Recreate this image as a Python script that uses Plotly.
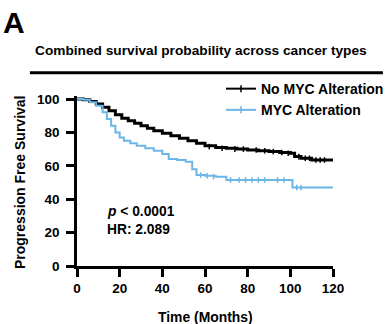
import plotly.graph_objects as go

# --- Data ---
no_myc_time = [0, 3, 6, 9, 12, 15, 18, 21, 24, 27, 30, 33, 36, 40, 44, 48, 52, 56, 60,
               65, 70, 75, 80, 85, 90, 95, 100, 102, 105, 110, 120]
no_myc_surv = [100, 99.5, 98.5, 97, 95, 93, 90.5, 88.5, 87, 85.5, 84, 82.5, 81, 79.5, 78,
               76.5, 75, 73.5, 72, 71, 70.5, 70, 69.5, 69, 68.5, 68, 67.5, 65.5, 64.5, 63.5, 63.5]
no_myc_cens_t = [62, 68, 74, 78, 84, 88, 92, 96, 99, 104, 107, 109, 112, 114, 116]
no_myc_cens_s = [71.5, 70.5, 70, 70, 69.5, 69, 68.5, 68, 67.5, 65.5, 64.5, 64.5, 63.5, 63.5, 63.5]

myc_time = [0, 3, 6, 9, 12, 14, 16, 18, 20, 22, 25, 28, 32, 36, 40, 43, 47, 51, 54, 56,
            60, 65, 70, 75, 80, 90, 100, 101, 120]
myc_surv = [100, 99.5, 98, 96, 92, 88, 84, 80, 77, 75, 73.5, 72, 70.5, 69, 67, 64, 63.5,
            62.5, 58, 54.5, 54, 53.5, 51.5, 51.5, 51.5, 51.5, 51.5, 47, 47]
myc_cens_t = [58, 61, 64, 72, 76, 79, 82, 85, 88, 94, 97, 103, 105]
myc_cens_s = [54.5, 54, 53.5, 51.5, 51.5, 51.5, 51.5, 51.5, 51.5, 51.5, 51.5, 47, 47]

series_names = ["No MYC Alteration", "MYC Alteration"]
x_ticks = [0, 20, 40, 60, 80, 100, 120]
y_ticks = [0, 20, 40, 60, 80, 100]

BLACK = "#000000"
BLUE = "#6BB6E6"
FONT = "Liberation Sans, Arial, sans-serif"

fig = go.Figure()

fig.add_trace(go.Scatter(x=no_myc_time, y=no_myc_surv, mode="lines",
                         line=dict(color=BLACK, width=3, shape="hv"), showlegend=False))
fig.add_trace(go.Scatter(x=myc_time, y=myc_surv, mode="lines",
                         line=dict(color=BLUE, width=2, shape="hv"), showlegend=False))
fig.add_trace(go.Scatter(x=no_myc_cens_t, y=no_myc_cens_s, mode="markers",
                         marker=dict(symbol="line-ns", size=4, line=dict(color=BLACK, width=1.5)),
                         showlegend=False))
fig.add_trace(go.Scatter(x=myc_cens_t, y=myc_cens_s, mode="markers",
                         marker=dict(symbol="line-ns", size=4, line=dict(color=BLUE, width=1.5)),
                         showlegend=False))
# legend entries
fig.add_trace(go.Scatter(x=[None], y=[None], mode="lines+markers", name=series_names[0],
                         line=dict(color=BLACK, width=2),
                         marker=dict(symbol="line-ns", size=5, line=dict(color=BLACK, width=1.5))))
fig.add_trace(go.Scatter(x=[None], y=[None], mode="lines+markers", name=series_names[1],
                         line=dict(color=BLUE, width=2),
                         marker=dict(symbol="line-ns", size=5, line=dict(color=BLUE, width=1.5))))

axis_common = dict(showline=True, linecolor="black", linewidth=2.5, ticks="outside",
                   ticklen=8, tickwidth=2.5, tickcolor="black", showgrid=False, zeroline=False,
                   tickfont=dict(family=FONT, size=13.5, color="black", weight="bold"))

fig.update_xaxes(range=[0, 120], tickvals=x_ticks, **axis_common)
fig.update_yaxes(range=[0, 101.8], tickvals=y_ticks, ticklabelstandoff=4, **axis_common)

fig.update_layout(
    width=388, height=324,
    margin=dict(l=77, r=55, t=96, b=58, autoexpand=False),
    paper_bgcolor="white", plot_bgcolor="white",
    legend=dict(x=0.5625, y=1.135, xanchor="left", yanchor="top",
                font=dict(family=FONT, size=14, color="black", weight="bold"),
                bgcolor="rgba(0,0,0,0)", tracegroupgap=0, itemwidth=30, borderwidth=0),
    shapes=[dict(type="line", xref="paper", yref="paper", x0=-0.184, x1=1.195,
                 y0=1.137, y1=1.137, line=dict(color="black", width=3))],
    annotations=[
        dict(text="A", xref="paper", yref="paper", x=-0.246, y=1.432, xanchor="center",
             yanchor="middle", showarrow=False,
             font=dict(family=FONT, size=30, color="black", weight="bold")),
        dict(text="Combined survival probability across cancer types", xref="paper",
             yref="paper", x=0.486, y=1.265, xanchor="center", yanchor="middle", showarrow=False,
             font=dict(family=FONT, size=13.7, color="black", weight="bold")),
        dict(text="<i>p</i> < 0.0001", xref="paper", yref="paper", x=0.109, y=0.319,
             xanchor="left", yanchor="middle", showarrow=False,
             font=dict(family=FONT, size=13.8, color="black", weight="bold")),
        dict(text="HR: 2.089", xref="paper", yref="paper", x=0.109, y=0.212,
             xanchor="left", yanchor="middle", showarrow=False,
             font=dict(family=FONT, size=13.8, color="black", weight="bold")),
        dict(text="Time (Months)", xref="paper", yref="paper", x=0.503, y=-0.298,
             xanchor="center", yanchor="middle", showarrow=False,
             font=dict(family=FONT, size=13.9, color="black", weight="bold")),
        dict(text="Progression Free Survival", xref="paper", yref="paper", x=-0.2246, y=0.491,
             xanchor="center", yanchor="middle", textangle=-90, showarrow=False,
             font=dict(family=FONT, size=14, color="black", weight="bold")),
    ],
)

fig.write_html("out.html", config={"displayModeBar": False},
               post_script="document.body.style.margin='0';")
